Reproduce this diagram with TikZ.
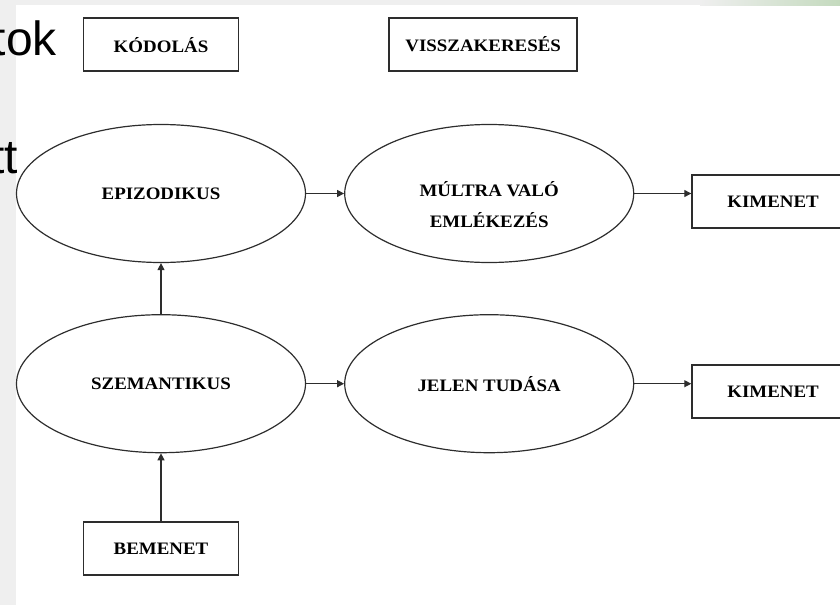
\documentclass[tikz,border=0pt]{standalone}
\usepackage{fontspec}
\setmainfont{Liberation Serif}
\newfontfamily\slidefont{Liberation Sans}
\newfontfamily\labelfont[FakeStretch=1.08]{Liberation Serif}
\usetikzlibrary{shapes.geometric, arrows.meta, positioning}
\definecolor{slidegray}{RGB}{239,239,239}
\definecolor{slidegreen}{RGB}{196,218,190}
\definecolor{edge}{RGB}{45,45,45}
\tikzstyle{Box} = [rectangle, draw=edge, line width=1.6pt, minimum width=155pt,
                   minimum height=53pt, font=\labelfont\bfseries\fontsize{17.5}{31}\selectfont]
\tikzstyle{Oval} = [ellipse, draw=edge, line width=1.2pt, minimum width=289pt,
                    minimum height=138pt, font=\labelfont\bfseries\fontsize{17.5}{31}\selectfont]
\tikzstyle{Arrow} = [draw=edge, line width=1.2pt, -{Triangle[length=7pt,width=7pt]}]
\tikzstyle{Slide} = [anchor=base east, inner sep=0pt, font=\slidefont\fontsize{48}{48}\selectfont]

\begin{document}
\begin{tikzpicture}
    [x=1pt, y=-1pt, align=center, node distance=38pt]

    \useasboundingbox (0,0) rectangle (840,605);
    \clip (0,0) rectangle (840,605);

    %% slide background
    \fill [slidegray] (0,0) rectangle (16,605);
    \fill [slidegray] (0,0) rectangle (700,5);
    \shade [left color=slidegray, right color=slidegreen] (700,0) rectangle (840,5);
    \node [Slide] (tok) at (57,55) {tok};
    \node [Slide] (tt) at (18,173) {tt};

    %% memory systems
    \node [Oval] (epi) at (161,193.5) {EPIZODIKUS};
    \node [Oval, below=51pt of epi] (szem) {SZEMANTIKUS};
    \node [Box, below=68pt of szem] (bem) {BEMENET};
    \node [Box, above=52pt of epi] (kod) {KÓDOLÁS};

    %% retrieval
    \node [Oval, right= of epi] (mult) {\rule{0pt}{38pt}MÚLTRA VALÓ\\EMLÉKEZÉS};
    \node [Oval, right= of szem] (jelen) {JELEN TUDÁSA};
    \node [Box, minimum width=188pt, above=52pt of mult, xshift=-6pt] (vissza) {VISSZAKERESÉS};

    %% output
    \node [Box, minimum width=175pt, right=57pt of mult, yshift=-8pt] (ki1) {\hspace*{-13pt}KIMENET};
    \node [Box, minimum width=175pt, right=57pt of jelen, yshift=-8pt] (ki2) {\hspace*{-13pt}KIMENET};

    %% Draw
    \draw [Arrow] (bem) -- (szem);
    \draw [Arrow] (szem) -- (epi);
    \draw [Arrow] (epi) -- (mult);
    \draw [Arrow] (szem) -- (jelen);
    \draw [Arrow] (mult.east) -- (mult.east -| ki1.west);
    \draw [Arrow] (jelen.east) -- (jelen.east -| ki2.west);

\end{tikzpicture}
\end{document}
